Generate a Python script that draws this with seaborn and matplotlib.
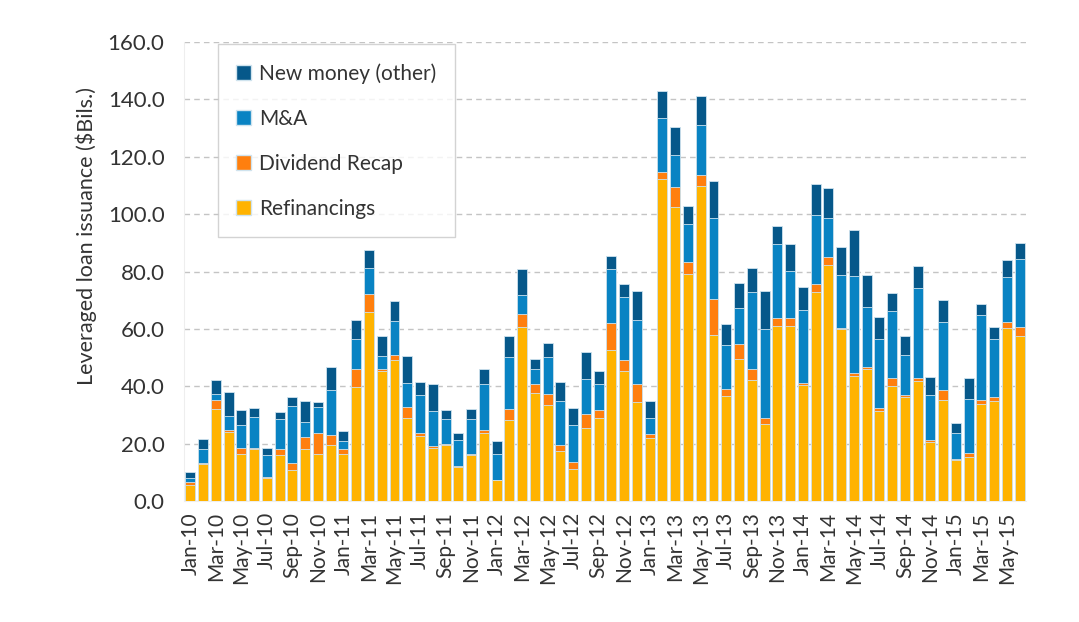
import numpy as np
import pandas as pd
import matplotlib.pyplot as plt
import seaborn as sns
from matplotlib.patches import Patch
from matplotlib.ticker import FixedLocator

# Data ($Bils.), Jan-10 .. Jun-15
months = pd.date_range("2010-01-01", "2015-06-01", freq="MS").strftime("%b-%y").tolist()

refi = [5.6, 13.0, 32.0, 24.0, 16.3, 18.0, 8.0, 15.9, 10.7, 18.0, 16.3, 19.4,
        16.3, 39.7, 65.8, 45.3, 49.0, 28.8, 22.5, 18.5, 19.6, 12.0, 16.2, 23.7,
        7.2, 28.1, 60.5, 37.5, 33.4, 17.3, 11.0, 25.3, 28.8, 52.5, 45.2, 34.4,
        22.0, 112.2, 102.5, 79.0, 109.8, 57.8, 36.5, 49.4, 42.1, 26.8, 60.9, 60.9,
        40.3, 72.7, 82.2, 60.0, 43.6, 46.0, 31.4, 40.0, 36.2, 41.7, 20.5, 35.1,
        14.3, 15.3, 33.7, 34.9, 60.2, 57.5]
div_recap = [0.9, 0.3, 3.3, 0.7, 2.1, 0.5, 0.3, 2.1, 2.4, 4.4, 7.4, 3.5,
             1.7, 6.2, 6.2, 0.7, 1.8, 3.9, 1.2, 0.7, 0.2, 0.1, 0.2, 1.0,
             0.0, 3.9, 4.6, 3.2, 3.8, 2.1, 2.5, 4.9, 2.8, 9.4, 3.8, 6.3,
             1.4, 2.5, 6.8, 4.2, 3.7, 12.5, 2.4, 5.2, 3.8, 2.0, 2.8, 2.8,
             0.7, 2.8, 2.7, 0.2, 1.1, 0.7, 0.9, 2.8, 0.6, 1.1, 0.7, 3.5,
             0.2, 1.3, 1.4, 1.2, 2.1, 3.0]
ma = [1.5, 4.7, 1.9, 4.8, 8.0, 10.7, 7.6, 10.5, 19.9, 5.0, 9.0, 15.7,
      2.8, 10.5, 9.1, 4.4, 11.8, 8.3, 13.1, 12.1, 8.7, 9.2, 12.1, 16.0,
      9.1, 18.1, 6.6, 5.2, 12.9, 15.3, 12.9, 12.2, 9.1, 18.9, 22.0, 22.3,
      5.4, 18.7, 11.2, 13.2, 17.5, 28.2, 15.4, 12.6, 26.8, 31.0, 25.8, 16.4,
      25.5, 24.1, 13.6, 18.5, 33.6, 20.8, 24.1, 23.3, 14.0, 31.3, 15.6, 23.7,
      9.1, 18.8, 29.6, 20.3, 15.7, 23.7]
new_money = [2.0, 3.5, 5.1, 8.4, 5.2, 3.1, 2.5, 2.4, 3.1, 7.3, 1.7, 8.0,
             3.5, 6.6, 6.3, 7.0, 7.0, 9.4, 4.6, 9.4, 3.1, 2.4, 3.5, 5.2,
             4.5, 7.3, 9.1, 3.5, 4.9, 6.7, 5.9, 9.4, 4.5, 4.5, 4.5, 10.1,
             5.9, 9.4, 9.7, 6.3, 10.1, 12.9, 7.3, 8.7, 8.4, 13.3, 6.2, 9.4,
             8.0, 10.8, 10.5, 9.7, 16.1, 11.2, 7.6, 6.3, 6.6, 7.7, 6.3, 7.7,
             3.5, 7.4, 3.9, 4.1, 5.9, 5.6]

series = ["Refinancings", "Dividend Recap", "M&A", "New money (other)"]
colors = ["#ffb300", "#ff7f0e", "#0983c3", "#06588a"]

df = pd.DataFrame({"Month": months, "Refinancings": refi, "Dividend Recap": div_recap,
                   "M&A": ma, "New money (other)": new_money})
cum = df[series].cumsum(axis=1)

sns.set_style("white")
plt.rcParams["font.family"] = ["Lato", "DejaVu Sans"]
txt = "#333333"

fig = plt.figure(figsize=(10.79, 6.22), dpi=100)
ax = fig.add_axes([0.1705, 0.1945, 0.7805, 0.738])

# stacked bars: draw cumulative totals from the top layer down
for name, col in reversed(list(zip(series, colors))):
    sns.barplot(x=df["Month"], y=cum[name], color=col, width=0.78,
                edgecolor="#cfe3ee", linewidth=0.6, saturation=1, ax=ax, zorder=3)

ax.set_ylim(0, 160)
ax.set_xlim(-0.5, len(months) - 0.5)
ax.set_yticks(np.arange(0, 161, 20))
ax.set_yticklabels([f"{v:.1f}" for v in np.arange(0, 161, 20)], fontsize=16, color=txt)
ax.yaxis.grid(True, linestyle=(0, (4, 3)), color="#c4c4c4", linewidth=1, zorder=0)
ax.set_axisbelow(True)

ax.set_xticks(range(0, len(months), 2))
ax.set_xticklabels(months[::2], rotation=90, fontsize=15, color=txt)
ax.xaxis.set_minor_locator(FixedLocator(np.arange(-0.5, len(months), 1)))
ax.tick_params(axis="x", which="major", length=0, pad=8)
ax.tick_params(axis="x", which="minor", length=9, color="#e6e6e6", width=1)
ax.tick_params(axis="y", length=0, pad=14)

ax.set_xlabel("")
ax.set_ylabel("Leveraged loan issuance ($Bils.)", fontsize=15.5, color=txt)
ax.yaxis.set_label_coords(-0.103, 0.578)

for s in ["top", "right"]:
    ax.spines[s].set_visible(False)
ax.spines["left"].set_color("#eeeeee")
ax.spines["bottom"].set_color("#eeeeee")

handles = [Patch(facecolor=c, edgecolor="#cfe3ee", label=n) for n, c in zip(series, colors)][::-1]
leg = ax.legend(handles=handles, loc="upper left", bbox_to_anchor=(0.04, 0.995),
                fontsize=15, frameon=True, fancybox=False, edgecolor="#c8c8c8",
                labelspacing=1.2, handlelength=0.7, handleheight=0.7, handletextpad=0.4,
                borderpad=0.9, borderaxespad=0)
leg.get_frame().set_linewidth(1)
for t in leg.get_texts():
    t.set_color(txt)

fig.savefig("out.png", dpi=100)
